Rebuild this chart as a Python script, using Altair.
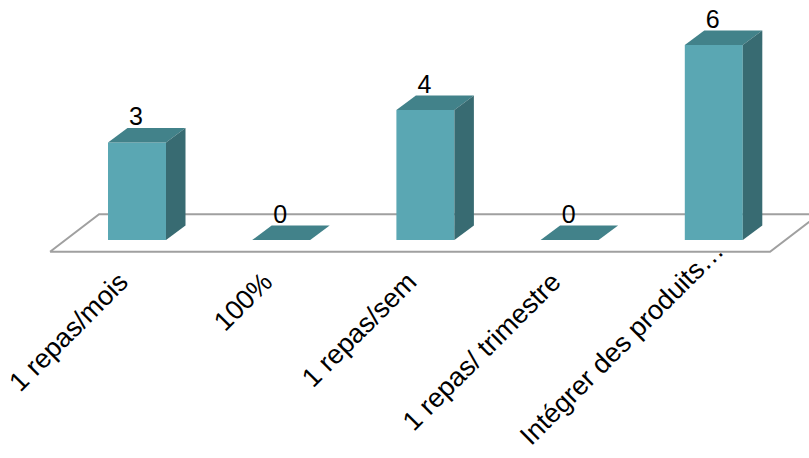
import altair as alt
import pandas as pd

# ---- data ----
categories = ["1 repas/mois", "100%", "1 repas/sem", "1 repas/ trimestre", "Intégrer des produits…"]
values = [3, 0, 4, 0, 6]

# ---- layout / style constants ----
W, H = 809, 458
PX_PER_CAT = 144.2      # pixels between category centres
PX_PER_UNIT = 32.5      # pixels per value unit
ORIGIN_X, ORIGIN_Y = 137, 240   # pixel position of category 0 / value 0

x_dom = [-ORIGIN_X / PX_PER_CAT, (W - ORIGIN_X) / PX_PER_CAT]
y_dom = [-(H - ORIGIN_Y) / PX_PER_UNIT, ORIGIN_Y / PX_PER_UNIT]

HW = 29 / PX_PER_CAT        # half bar width (category units)
DX = 19.5 / PX_PER_CAT      # depth shift x
DY = 14.5 / PX_PER_UNIT     # depth shift y

FRONT = "#5AA7B3"
TOP = "#42828A"
SIDE = "#386B72"
FONT = "Liberation Sans"
LABEL_SIZE = 27
VALUE_SIZE = 25

# floor (decorative parallelogram, in data units)
F_X0, F_X1 = -0.603, 4.39
F_Y0, F_Y1 = -0.36, 0.79
F_DX = 0.34

xs = alt.Scale(domain=x_dom, nice=False, zero=False)
ys = alt.Scale(domain=y_dom, nice=False, zero=False)

# ---- derived tables ----
front = pd.DataFrame({
    "cat": categories,
    "x": [i - HW for i in range(len(values))],
    "x2": [i + HW for i in range(len(values))],
    "y": [0.0] * len(values),
    "y2": values,
})
front = front[front["y2"] > 0]

top_rows, side_rows = [], []
for i, v in enumerate(values):
    l, r = i - HW, i + HW
    top_rows += [
        {"bar": i, "x": l, "y": v, "y2": v},
        {"bar": i, "x": l + DX, "y": v, "y2": v + DY},
        {"bar": i, "x": r, "y": v, "y2": v + DY},
        {"bar": i, "x": r + DX, "y": v + DY, "y2": v + DY},
    ]
    side_rows += [
        {"bar": i, "x": r, "y": 0, "y2": v},
        {"bar": i, "x": r + DX, "y": DY, "y2": v + DY},
    ]
top = pd.DataFrame(top_rows)
side = pd.DataFrame(side_rows)

floor = pd.DataFrame({
    "ord": [0, 1, 2, 3, 4],
    "x": [F_X0, F_X1, F_X1 + F_DX, F_X0 + F_DX, F_X0],
    "y": [F_Y0, F_Y0, F_Y1, F_Y1, F_Y0],
})

vlabels = pd.DataFrame({
    "x": list(range(len(values))),
    "y": [v + DY for v in values],
    "t": [str(v) for v in values],
})

# category labels: right end anchored below each bar, rotated -45deg;
# long labels are lifted so they stay inside the picture
ANCHOR_DX, ANCHOR_Y = -13, 278
lx, ly = [], []
for i, c in enumerate(categories):
    ax = ORIGIN_X + i * PX_PER_CAT + ANCHOR_DX
    ay = ANCHOR_Y
    est_w = 0.46 * LABEL_SIZE * len(c)
    bottom = ay + est_w * 0.7071 + LABEL_SIZE * 0.45
    over = max(0.0, bottom - (H - 6))
    ax += 0.6 * over
    ay -= over
    lx.append((ax - ORIGIN_X) / PX_PER_CAT)
    ly.append((ORIGIN_Y - ay) / PX_PER_UNIT)
clabels = pd.DataFrame({"x": lx, "y": ly, "t": categories})

X = lambda f="x": alt.X(f"{f}:Q", scale=xs, axis=None)
Y = lambda f="y": alt.Y(f"{f}:Q", scale=ys, axis=None, stack=None)

floor_layer = alt.Chart(floor).mark_line(color="#A0A0A0", strokeWidth=2, clip=True).encode(
    x=X(), y=Y(), order="ord:Q"
)

front_layer = alt.Chart(front).mark_rect(color=FRONT).encode(
    x=X(), x2="x2:Q", y=Y(), y2="y2:Q"
)

top_layer = alt.Chart(top).mark_area(color=TOP, orient="vertical", opacity=1, line=False).encode(
    x=X(), y=Y(), y2="y2:Q", detail="bar:N"
)

side_layer = alt.Chart(side).mark_area(color=SIDE, orient="vertical", opacity=1, line=False).encode(
    x=X(), y=Y(), y2="y2:Q", detail="bar:N"
)

vlabel_layer = alt.Chart(vlabels).mark_text(
    font=FONT, fontSize=VALUE_SIZE, color="black", baseline="alphabetic", align="center", dy=-3, dx=-1
).encode(x=X(), y=Y(), text="t:N")

clabel_layer = alt.Chart(clabels).mark_text(
    font=FONT, fontSize=LABEL_SIZE, color="black", baseline="middle", align="right", angle=315
).encode(x=X(), y=Y(), text="t:N")

chart = alt.layer(
    floor_layer, front_layer, top_layer, side_layer, vlabel_layer, clabel_layer
).properties(
    width=W, height=H, autosize="none", padding=0, background="white"
).configure_view(stroke=None)

chart.save("out.html", embed_options={"renderer": "svg", "actions": False})
